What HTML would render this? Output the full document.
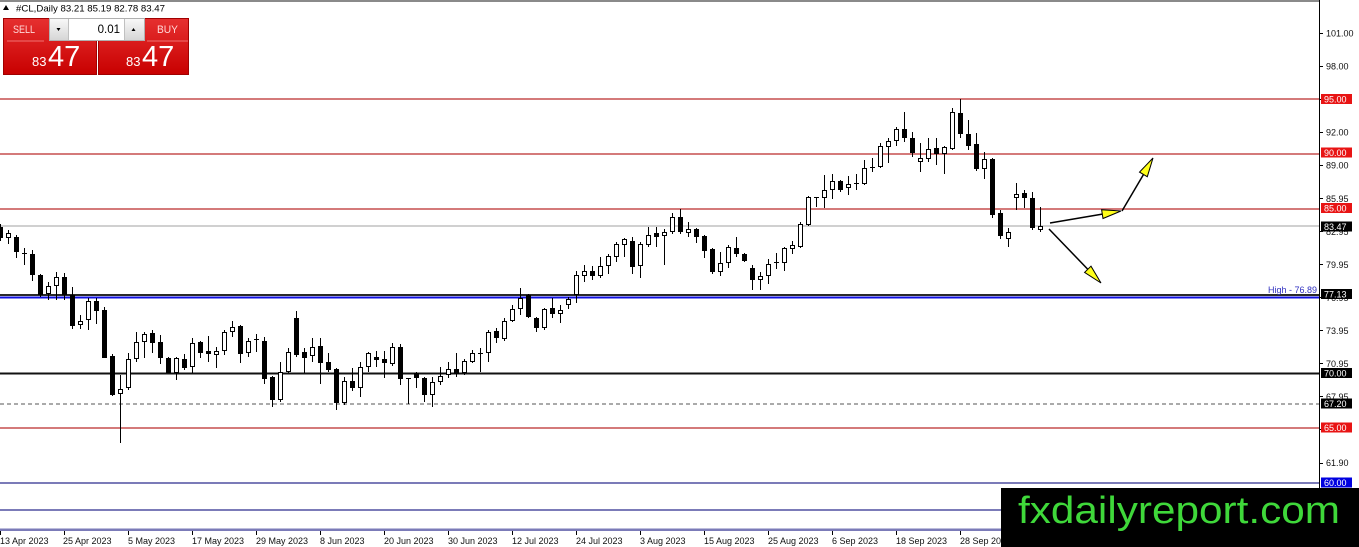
<!DOCTYPE html>
<html><head><meta charset="utf-8"><style>
html,body{margin:0;padding:0;background:#fff;width:1359px;height:547px;overflow:hidden}
svg{display:block}
text{font-family:"Liberation Sans",Arial,sans-serif}
</style></head><body>
<svg width="1359" height="547" viewBox="0 0 1359 547" xmlns="http://www.w3.org/2000/svg">
<defs>
<linearGradient id="rg" x1="0" y1="0" x2="0" y2="1"><stop offset="0" stop-color="#e63030"/><stop offset="1" stop-color="#c80000"/></linearGradient>
<linearGradient id="bg" x1="0" y1="0" x2="0" y2="1"><stop offset="0" stop-color="#f8f8f8"/><stop offset="1" stop-color="#d6d6d6"/></linearGradient>
</defs>
<rect x="0" y="0" width="1359" height="547" fill="#fff"/>
<!-- top border -->
<rect x="0" y="0" width="1319" height="2" fill="#8a8a8a"/>
<!-- horizontal levels -->
<g shape-rendering="crispEdges">
<rect x="0" y="98" width="1319" height="2" fill="#d47a7a"/>
<rect x="0" y="153" width="1319" height="2" fill="#d47a7a"/>
<rect x="0" y="208" width="1319" height="2" fill="#d47a7a"/>
<rect x="0" y="225" width="1319" height="2" fill="#d0d0d0"/>
<rect x="0" y="294" width="1319" height="2" fill="#2a2a2a"/>
<rect x="0" y="296.5" width="1319" height="2" fill="#1010e0"/>
<rect x="0" y="372.5" width="1319" height="2" fill="#111"/>
<line x1="0" y1="404" x2="1319" y2="404" stroke="#555" stroke-width="1" stroke-dasharray="4,3"/>
<rect x="0" y="427" width="1319" height="2" fill="#d47a7a"/>
<rect x="0" y="482" width="1319" height="2" fill="#7b7bb8"/>
<rect x="0" y="509" width="1319" height="2" fill="#7b7bb8"/>
<rect x="0" y="528.5" width="1319" height="2.5" fill="#7b7bb8"/>
</g>
<text x="1317" y="293" font-size="9" fill="#3030c0" text-anchor="end">High - 76.89</text>

<!-- candles -->
<g shape-rendering="crispEdges">
<path fill="none" stroke="#000" stroke-width="1" d="M0.5 224V241M8.5 230V244M16.5 235V258M24.5 248V265M32.5 250V281M40.5 274V297M48.5 282V300M56.5 272V300M64.5 273V300M72.5 287V329M80.5 315V329M88.5 298V330M96.5 298V324M104.5 307V358M112.5 354V396M120.5 375V443M128.5 353V390M136.5 332V362M144.5 332V358M152.5 330V353M160.5 335V364M168.5 357V373M176.5 357V380M184.5 354V370M192.5 338V373M200.5 341V358M208.5 336V362M216.5 347V368M224.5 330V355M232.5 321V337M240.5 325V363M248.5 338V357M256.5 334V352M264.5 337V384M272.5 376V407M280.5 362V402M288.5 348V373M296.5 311V357M304.5 348V373M312.5 338V362M320.5 338V384M328.5 353V372M336.5 368V410M344.5 377V405M352.5 368V391M360.5 362V397M368.5 352V372M376.5 351V367M384.5 351V378M392.5 343V366M400.5 344V385M408.5 378V404M416.5 372V388M424.5 377V402M432.5 377V407M440.5 367V385M448.5 362V378M456.5 353V377M464.5 359V375M472.5 350V363M480.5 348V372M488.5 330V362M496.5 328V343M504.5 318V341M512.5 305V322M520.5 288V315M528.5 294V318M536.5 317V332M544.5 308V330M552.5 298V318M560.5 305V323M568.5 297V309M576.5 271V303M584.5 265V282M592.5 266V280M600.5 257V278M608.5 254V274M616.5 242V262M624.5 238V257M632.5 237V274M640.5 242V278M648.5 227V247M656.5 227V247M664.5 229V265M672.5 213V234M680.5 209V234M688.5 222V237M696.5 228V243M704.5 235V258M712.5 248V274M720.5 252V276M728.5 245V268M736.5 237V257M744.5 253V262M752.5 265V290M760.5 272V290M768.5 259V284M776.5 253V269M784.5 247V271M792.5 241V254M800.5 222V248M808.5 196V226M816.5 197V207M824.5 175V208M832.5 174V199M840.5 180V192M848.5 176V195M856.5 174V190M864.5 160V185M872.5 158V172M880.5 143V168M888.5 138V163M896.5 127V146M904.5 112V142M912.5 132V157M920.5 143V172M928.5 138V162M936.5 138V165M944.5 146V174M952.5 108V150M960.5 99V138M968.5 120V150M976.5 133V171M984.5 152V179M992.5 158V218M1000.5 210V239M1008.5 228V247M1016.5 183V210M1024.5 190V208M1032.5 192V230M1040.5 207V232"/>
<path fill="#000" d="M-2 227h5v11h-5zM14 237h5v15h-5zM30 254h5v21h-5zM38 275h5v20h-5zM62 277h5v18h-5zM70 295h5v31h-5zM94 301h5v10h-5zM102 310h5v48h-5zM110 356h5v39h-5zM150 333h5v10h-5zM158 342h5v16h-5zM166 358h5v15h-5zM182 359h5v9h-5zM198 342h5v11h-5zM206 351h5v3h-5zM238 326h5v28h-5zM262 341h5v38h-5zM270 377h5v23h-5zM294 318h5v37h-5zM302 352h5v6h-5zM318 346h5v17h-5zM326 362h5v8h-5zM334 369h5v34h-5zM350 381h5v7h-5zM374 357h5v3h-5zM382 359h5v4h-5zM398 347h5v32h-5zM414 373h5v5h-5zM422 378h5v17h-5zM454 369h5v5h-5zM494 331h5v7h-5zM526 295h5v22h-5zM534 318h5v10h-5zM550 308h5v6h-5zM590 271h5v5h-5zM630 241h5v26h-5zM654 233h5v4h-5zM678 217h5v15h-5zM694 229h5v8h-5zM702 236h5v15h-5zM710 249h5v23h-5zM734 248h5v6h-5zM742 254h5v7h-5zM750 268h5v12h-5zM838 181h5v9h-5zM902 129h5v9h-5zM910 138h5v15h-5zM934 148h5v6h-5zM958 113h5v21h-5zM966 134h5v12h-5zM974 144h5v25h-5zM990 159h5v56h-5zM998 213h5v23h-5zM1022 193h5v5h-5zM1030 198h5v30h-5zM22 253h5v1h-5zM254 339h5v1h-5zM406 378h5v1h-5zM478 353h5v1h-5zM774 262h5v1h-5zM814 197h5v1h-5zM854 183h5v1h-5zM870 167h5v1h-5z"/>
<path fill="#fff" stroke="#000" stroke-width="1" d="M6.5 233.5h4v4h-4zM46.5 286.5h4v7h-4zM54.5 277.5h4v8h-4zM78.5 321.5h4v3h-4zM86.5 301.5h4v18h-4zM118.5 389.5h4v4h-4zM126.5 359.5h4v28h-4zM134.5 342.5h4v16h-4zM142.5 334.5h4v7h-4zM174.5 358.5h4v14h-4zM190.5 343.5h4v23h-4zM214.5 351.5h4v3h-4zM222.5 332.5h4v18h-4zM230.5 327.5h4v4h-4zM246.5 341.5h4v11h-4zM278.5 372.5h4v27h-4zM286.5 352.5h4v19h-4zM310.5 347.5h4v8h-4zM342.5 381.5h4v21h-4zM358.5 367.5h4v20h-4zM366.5 353.5h4v13h-4zM390.5 347.5h4v16h-4zM430.5 382.5h4v12h-4zM438.5 376.5h4v5h-4zM446.5 369.5h4v5h-4zM462.5 361.5h4v11h-4zM470.5 353.5h4v8h-4zM486.5 332.5h4v20h-4zM502.5 321.5h4v17h-4zM510.5 309.5h4v11h-4zM518.5 298.5h4v10h-4zM542.5 309.5h4v18h-4zM558.5 310.5h4v3h-4zM566.5 299.5h4v5h-4zM574.5 275.5h4v19h-4zM582.5 271.5h4v4h-4zM598.5 266.5h4v9h-4zM606.5 256.5h4v9h-4zM614.5 244.5h4v12h-4zM622.5 239.5h4v5h-4zM638.5 244.5h4v21h-4zM646.5 235.5h4v9h-4zM662.5 232.5h4v3h-4zM670.5 217.5h4v14h-4zM686.5 229.5h4v3h-4zM718.5 263.5h4v8h-4zM726.5 247.5h4v15h-4zM758.5 276.5h4v3h-4zM766.5 264.5h4v11h-4zM782.5 248.5h4v14h-4zM790.5 245.5h4v3h-4zM798.5 224.5h4v22h-4zM806.5 197.5h4v27h-4zM822.5 190.5h4v7h-4zM830.5 181.5h4v8h-4zM846.5 184.5h4v3h-4zM862.5 168.5h4v15h-4zM878.5 146.5h4v20h-4zM886.5 141.5h4v5h-4zM894.5 129.5h4v11h-4zM918.5 158.5h4v3h-4zM926.5 149.5h4v9h-4zM942.5 147.5h4v6h-4zM950.5 112.5h4v36h-4zM982.5 159.5h4v9h-4zM1006.5 232.5h4v6h-4zM1014.5 194.5h4v3h-4zM1038.5 226.5h4v3h-4z"/>
</g>

<!-- arrows -->
<g stroke="#000" stroke-width="1.5" fill="none">
<line x1="1050" y1="223" x2="1103" y2="214"/>
<line x1="1122" y1="211" x2="1143.5" y2="174.5"/>
<line x1="1049" y1="229" x2="1088" y2="269.5"/>
</g>
<g fill="#ffff1a" stroke="#000" stroke-width="1">
<polygon points="1121,211 1103,218.5 1101.6,209.7"/>
<polygon points="1153,158 1147.3,176.7 1139.5,172.1"/>
<polygon points="1101,283 1084.6,272.4 1091,266.2"/>
</g>

<!-- right axis -->
<g shape-rendering="crispEdges">
<rect x="1319" y="0" width="1" height="531" fill="#000"/>
<path stroke="#000" stroke-width="1" d="M1320 33.5h3M1320 66.5h3M1320 99.5h3M1320 132.5h3M1320 165.5h3M1320 198.5h3M1320 231.5h3M1320 264.5h3M1320 297.5h3M1320 330.5h3M1320 363.5h3M1320 396.5h3M1320 429.5h3M1320 463.5h3"/>
</g>
<g font-size="9" fill="#111">
<text x="1326" y="36.5">101.00</text>
<text x="1326" y="69.5">98.00</text>
<text x="1326" y="135.5">92.00</text>
<text x="1326" y="168.5">89.00</text>
<text x="1326" y="202">85.95</text>
<text x="1326" y="235">82.95</text>
<text x="1326" y="268">79.95</text>
<text x="1326" y="301">76.95</text>
<text x="1326" y="334">73.95</text>
<text x="1326" y="367">70.95</text>
<text x="1326" y="400">67.95</text>
<text x="1326" y="466">61.90</text>
</g>
<g shape-rendering="crispEdges">
<rect x="1321" y="94" width="31" height="10" fill="#e81414"/>
<rect x="1321" y="147.5" width="31" height="10" fill="#e81414"/>
<rect x="1321" y="203" width="31" height="10" fill="#e81414"/>
<rect x="1321" y="221.5" width="31" height="10" fill="#000"/>
<rect x="1321" y="289" width="31" height="10" fill="#000"/>
<rect x="1321" y="368" width="31" height="10" fill="#000"/>
<rect x="1321" y="398.5" width="31" height="10" fill="#000"/>
<rect x="1321" y="422.5" width="31" height="10" fill="#e81414"/>
<rect x="1321" y="477.5" width="31" height="10" fill="#0000e0"/>
</g>
<g font-size="9" fill="#fff">
<text x="1324" y="102.5">95.00</text>
<text x="1324" y="156">90.00</text>
<text x="1324" y="211.5">85.00</text>
<text x="1324" y="230">83.47</text>
<text x="1324" y="297.5">77.13</text>
<text x="1324" y="376.5">70.00</text>
<text x="1324" y="407">67.20</text>
<text x="1324" y="431">65.00</text>
<text x="1324" y="486">60.00</text>
</g>

<!-- x axis -->
<path shape-rendering="crispEdges" stroke="#000" stroke-width="1" d="M0.5 531v4M64.5 531v4M128.5 531v4M192.5 531v4M256.5 531v4M320.5 531v4M384.5 531v4M448.5 531v4M512.5 531v4M576.5 531v4M640.5 531v4M704.5 531v4M768.5 531v4M832.5 531v4M896.5 531v4M960.5 531v4"/>
<g font-size="9" fill="#111">
<text x="0" y="544">13 Apr 2023</text>
<text x="63" y="544">25 Apr 2023</text>
<text x="128" y="544">5 May 2023</text>
<text x="192" y="544">17 May 2023</text>
<text x="256" y="544">29 May 2023</text>
<text x="320" y="544">8 Jun 2023</text>
<text x="384" y="544">20 Jun 2023</text>
<text x="448" y="544">30 Jun 2023</text>
<text x="512" y="544">12 Jul 2023</text>
<text x="576" y="544">24 Jul 2023</text>
<text x="640" y="544">3 Aug 2023</text>
<text x="704" y="544">15 Aug 2023</text>
<text x="768" y="544">25 Aug 2023</text>
<text x="832" y="544">6 Sep 2023</text>
<text x="896" y="544">18 Sep 2023</text>
<text x="960" y="544">28 Sep 2023</text>
</g>

<!-- header -->
<polygon points="3,10 6,5 9,10" fill="#000"/>
<text x="16" y="11.5" font-size="9" fill="#000" textLength="149" lengthAdjust="spacingAndGlyphs">#CL,Daily  83.21 85.19 82.78 83.47</text>

<!-- one-click panel -->
<rect x="3.5" y="18.5" width="93" height="56" fill="url(#rg)" stroke="#a00000"/>
<rect x="98.5" y="18.5" width="90" height="56" fill="url(#rg)" stroke="#a00000"/>
<rect x="7" y="40.5" width="37" height="1" fill="#f07070"/>
<rect x="147" y="40.5" width="41" height="1" fill="#f07070"/>
<text x="13" y="33" font-size="11" fill="#ffd8d8" textLength="22" lengthAdjust="spacingAndGlyphs">SELL</text>
<text x="157" y="33" font-size="11" fill="#ffd8d8" textLength="21" lengthAdjust="spacingAndGlyphs">BUY</text>
<rect x="49.5" y="18.5" width="95" height="22" fill="#fff" stroke="#b0b0b0"/>
<rect x="50" y="19" width="18" height="21" fill="url(#bg)"/>
<rect x="125" y="19" width="19" height="21" fill="url(#bg)"/>
<rect x="68" y="19" width="1" height="21" fill="#c0c0c0"/>
<rect x="124" y="19" width="1" height="21" fill="#c0c0c0"/>
<polygon points="56.5,28 60.5,28 58.5,31" fill="#000"/>
<polygon points="131.5,31 135.5,31 133.5,28" fill="#000"/>
<text x="120" y="33" font-size="11.5" fill="#000" text-anchor="end">0.01</text>
<text x="32" y="66" font-size="13" fill="#fff">83</text>
<text x="48" y="66" font-size="29" fill="#fff">47</text>
<text x="126" y="66" font-size="13" fill="#fff">83</text>
<text x="142" y="66" font-size="29" fill="#fff">47</text>

<!-- watermark -->
<rect x="1001" y="488" width="358" height="59" fill="#000"/>
<text x="1018" y="523" font-size="38" fill="#3fd83a" textLength="322" lengthAdjust="spacingAndGlyphs">fxdailyreport.com</text>
</svg>
</body></html>
